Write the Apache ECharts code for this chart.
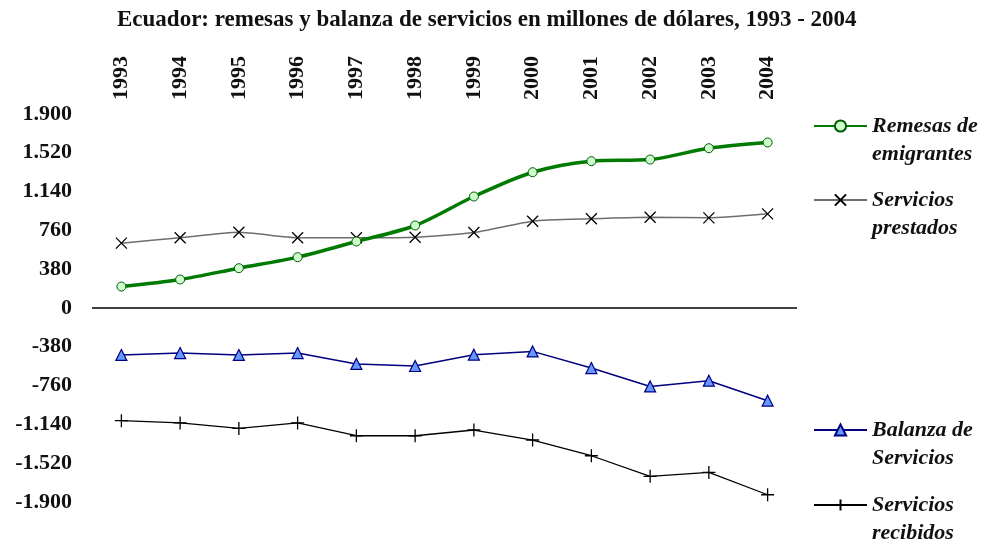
<!DOCTYPE html>
<html>
<head>
<meta charset="utf-8">
<script src="https://cdn.jsdelivr.net/npm/echarts@6/dist/echarts.min.js"></script>
<style>
  html, body { margin: 0; padding: 0; background: #fff; }
  #main { width: 991px; height: 546px; }
</style>
</head>
<body>
<div id="main"></div>
<script>
// datos (millones de dolares)
var years = ['1993', '1994', '1995', '1996', '1997', '1998', '1999', '2000', '2001', '2002', '2003', '2004'];
var remesas = [210, 279, 390, 498, 651, 808, 1092, 1330, 1438, 1454, 1565, 1621];
var prestados = [635, 688, 742, 688, 688, 693, 739, 850, 874, 889, 883, 922];
var balanza = [-460, -441, -460, -441, -548, -568, -457, -425, -588, -768, -712, -908];
var recibidos = [-1104, -1126, -1179, -1126, -1251, -1251, -1195, -1293, -1447, -1649, -1610, -1829];
var yTicks = { min: -1900, max: 1900, step: 380 };

var serif = 'Liberation Serif';
var names = {
    'Remesas de emigrantes': 'Remesas de\nemigrantes',
    'Servicios prestados': 'Servicios\nprestados',
    'Balanza de Servicios': 'Balanza de\nServicios',
    'Servicios recibidos': 'Servicios\nrecibidos'
};

// formato con punto de miles: 1.900
function fmt(v) {
    var s = String(Math.abs(v));
    if (s.length > 3) s = s.slice(0, s.length - 3) + '.' + s.slice(s.length - 3);
    return (v < 0 ? '-' : '') + s;
}

// una leyenda por serie; la linea vacia arriba deja el icono a la altura de la primera linea
function oneLegend(name, top) {
    return {
        data: [name],
        orient: 'vertical',
        left: 813,
        top: top,
        padding: 0,
        itemWidth: 53,
        itemHeight: 14,
        selectedMode: false,
        formatter: function (n) { return ' \n' + names[n]; },
        textStyle: {
            fontFamily: serif,
            fontStyle: 'italic',
            fontWeight: 'bold',
            fontSize: 22,
            lineHeight: 28,
            color: '#111'
        }
    };
}

var myChart = echarts.init(document.getElementById('main'));
var option = {
    backgroundColor: '#fff',
    animation: false,
    title: {
        text: 'Ecuador: remesas y balanza de servicios en millones de dólares, 1993 - 2004',
        left: 112,
        top: 4,
        textStyle: { fontFamily: serif, fontWeight: 'bold', fontSize: 23, color: '#111' }
    },
    legend: [
        oneLegend('Remesas de emigrantes', 84),
        oneLegend('Servicios prestados', 158),
        oneLegend('Balanza de Servicios', 388),
        oneLegend('Servicios recibidos', 463)
    ],
    grid: { left: 92, width: 705, top: 114, height: 388 },
    xAxis: {
        type: 'category',
        data: years,
        position: 'top',
        boundaryGap: true,
        axisLine: { show: false },
        axisTick: { show: false },
        axisLabel: {
            rotate: 90,
            margin: 14,
            fontFamily: serif,
            fontWeight: 'bold',
            fontSize: 22,
            color: '#111'
        }
    },
    yAxis: {
        type: 'value',
        min: yTicks.min,
        max: yTicks.max,
        interval: yTicks.step,
        axisLine: { show: false },
        axisTick: { show: false },
        splitLine: { show: false },
        axisLabel: {
            margin: 20,
            fontFamily: serif,
            fontWeight: 'bold',
            fontSize: 22,
            color: '#111',
            formatter: fmt
        }
    },
    series: [
        {
            name: 'Remesas de emigrantes',
            type: 'line',
            data: remesas,
            smooth: 0.3,
            z: 5,
            symbol: 'circle',
            symbolSize: 9,
            lineStyle: { color: '#007a00', width: 3.5 },
            itemStyle: { color: '#ccffcc', borderColor: '#005a00', borderWidth: 1 },
            // linea del cero
            markLine: {
                silent: true,
                symbol: 'none',
                label: { show: false },
                lineStyle: { color: '#000', width: 1.5, type: 'solid' },
                data: [{ yAxis: 0 }]
            }
        },
        {
            name: 'Servicios prestados',
            type: 'line',
            data: prestados,
            smooth: 0.2,
            z: 3,
            symbol: 'path://M0,0L10,10M10,0L0,10',
            symbolSize: 11,
            lineStyle: { color: '#6e6e6e', width: 1.5 },
            itemStyle: { color: 'none', borderColor: '#000', borderWidth: 1.3 }
        },
        {
            name: 'Balanza de Servicios',
            type: 'line',
            data: balanza,
            z: 3,
            symbol: 'triangle',
            symbolSize: 11,
            lineStyle: { color: '#000080', width: 1.5 },
            itemStyle: { color: '#6699ff', borderColor: '#000080', borderWidth: 1.2 }
        },
        {
            name: 'Servicios recibidos',
            type: 'line',
            data: recibidos,
            z: 3,
            symbol: 'path://M5,0L5,10M0,5L10,5',
            symbolSize: 13,
            lineStyle: { color: '#000', width: 1.3 },
            itemStyle: { color: 'none', borderColor: '#000', borderWidth: 1.3 }
        }
    ]
};
myChart.setOption(option);
</script>
</body>
</html>
